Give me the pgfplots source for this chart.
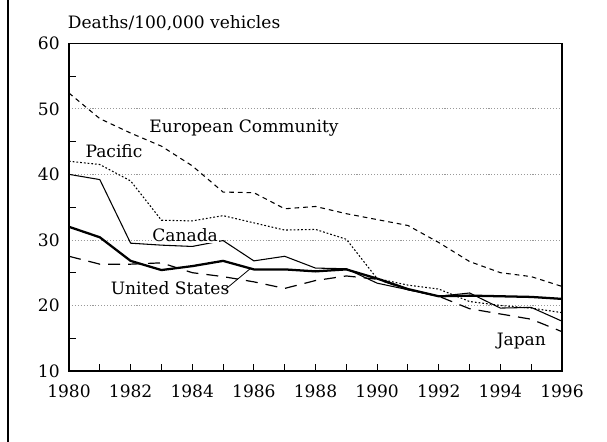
\documentclass[border=0pt]{standalone}
\usepackage{fontspec}
\setmainfont{DejaVu Serif}
\usepackage{pgfplots}
\pgfplotsset{compat=1.18}
\begin{document}
\begin{tikzpicture}[font=\fontsize{12.8}{15}\selectfont]
\path[use as bounding box] (-51.75pt,-53.25pt) rectangle (403.5pt,278.25pt);
\draw[line width=0.8pt] (-45.75pt,-53.25pt) -- (-45.75pt,278.25pt);
\begin{axis}[
  at={(0,0)}, anchor=south west,
  scale only axis, width=369.75pt, height=245.8pt,
  xmin=1980, xmax=1996, ymin=10, ymax=60,
  xtick={1980,1982,...,1996}, minor xtick={1981,1983,...,1995},
  ytick={10,20,...,60}, minor ytick={15,25,...,55},
  tick pos=left, tick align=inside,
  major tick length=5pt, minor tick length=5pt,
  every major y tick/.append style={draw=none},
  tick style={black, line width=0.8pt},
  ymajorgrids,
  major grid style={gray!80, line width=0.6pt, dash pattern=on 0.8pt off 1.4pt},
  axis line style={line width=0.9pt},
  /pgf/number format/assume math mode=true,
  /pgf/number format/1000 sep={},
  xticklabel style={yshift=-6.5pt},
  yticklabel style={xshift=-3.5pt},
  no marks,
  clip=false,
]
% European Community
\addplot[black, line width=0.8pt, dash pattern=on 3.5pt off 3pt] coordinates {
(1980,52.4)(1981,48.5)(1982,46.3)(1983,44.3)(1984,41.3)(1985,37.3)(1986,37.2)(1987,34.75)(1988,35.1)(1989,34.0)(1990,33.1)(1991,32.2)(1992,29.6)(1993,26.7)(1994,25.0)(1995,24.4)(1996,22.9)};
% Pacific
\addplot[black, line width=0.8pt, dash pattern=on 1.3pt off 1.5pt] coordinates {
(1980,42.0)(1981,41.5)(1982,39.0)(1983,33.0)(1984,32.9)(1985,33.7)(1986,32.6)(1987,31.5)(1988,31.6)(1989,30.1)(1990,24.1)(1991,23.1)(1992,22.5)(1993,20.6)(1994,20.0)(1995,19.6)(1996,18.9)};
% Canada
\addplot[black, line width=0.8pt] coordinates {
(1980,40.0)(1981,39.2)(1982,29.5)(1983,29.2)(1984,29.0)(1985,29.9)(1986,26.8)(1987,27.5)(1988,25.7)(1989,25.6)(1990,23.4)(1991,22.4)(1992,21.4)(1993,21.9)(1994,19.6)(1995,19.7)(1996,17.6)};
% United States
\addplot[black, line width=1.7pt] coordinates {
(1980,32.0)(1981,30.4)(1982,26.8)(1983,25.4)(1984,26.0)(1985,26.8)(1986,25.5)(1987,25.5)(1988,25.2)(1989,25.5)(1990,24.1)(1991,22.5)(1992,21.4)(1993,21.5)(1994,21.4)(1995,21.3)(1996,21.0)};
% Japan
\addplot[black, line width=0.9pt, dash pattern=on 9pt off 6pt] coordinates {
(1980,27.5)(1981,26.3)(1982,26.3)(1983,26.5)(1984,25.0)(1985,24.4)(1986,23.6)(1987,22.6)(1988,23.8)(1989,24.5)(1990,24.0)(1991,22.4)(1992,21.4)(1993,19.5)(1994,18.7)(1995,17.9)(1996,16.0)};
% labels
\node[anchor=base west, inner sep=0pt] at (rel axis cs:0,1) [yshift=11.25pt, xshift=-1pt] {Deaths/100,000 vehicles};
\node[anchor=base] at (axis cs:1985.68,46.35) {European Community};
\node[anchor=base] at (axis cs:1981.46,42.6) {Pacific};
\node[anchor=base, fill=white, inner sep=0.5pt] at (axis cs:1983.77,29.74) {Canada};
\node[anchor=base] at (axis cs:1983.28,21.7) {United States};
\draw[black, line width=0.6pt] (axis cs:1985.06,22.4) -- (axis cs:1985.88,25.6);
\node[anchor=base] at (axis cs:1994.68,13.9) {Japan};
\end{axis}
\end{tikzpicture}
\end{document}
